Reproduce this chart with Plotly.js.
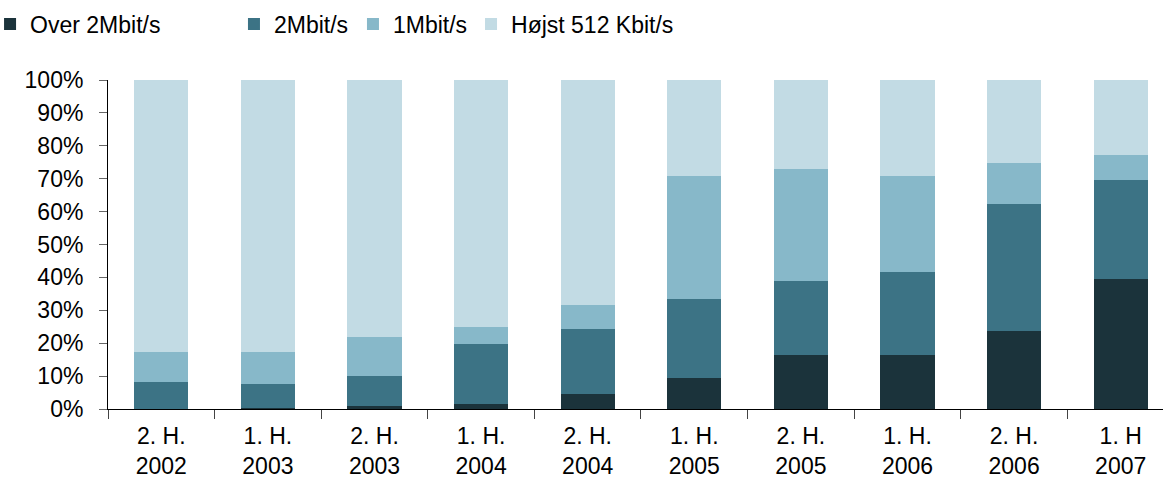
<!DOCTYPE html>
<html>
<head>
<meta charset="utf-8">
<script src="https://cdn.plot.ly/plotly-3.0.1.min.js"></script>
<style>
html, body { margin: 0; padding: 0; background: #fff; }
#chart { width: 1163px; height: 486px; }
</style>
</head>
<body>
<div id="chart"></div>
<script>
const categories = ["2. H.<br>2002", "1. H.<br>2003", "2. H.<br>2003", "1. H.<br>2004", "2. H.<br>2004",
                    "1. H.<br>2005", "2. H.<br>2005", "1. H.<br>2006", "2. H.<br>2006", "1. H<br>2007"];
const seriesNames = ["Over 2Mbit/s", "2Mbit/s", "1Mbit/s", "Højst 512 Kbit/s"];
const over2 = [0, 0.3, 0.9, 1.5, 4.6, 9.4, 16.4, 16.4, 23.7, 39.5];
const mbit2 = [8.2, 7.3, 9.1, 18.3, 19.7, 24.1, 22.5, 25.3, 38.7, 30.2];
const mbit1 = [9.1, 9.7, 11.9, 5.1, 7.3, 37.4, 34.1, 29.2, 12.4, 7.6];
const kbit512 = [82.7, 82.7, 78.1, 75.1, 68.4, 29.1, 27.0, 29.1, 25.2, 22.7];
const yTicks = [0, 10, 20, 30, 40, 50, 60, 70, 80, 90, 100];

const colors = ["#1b333b", "#3c7385", "#87b8c9", "#c2dbe4"];
const values = [over2, mbit2, mbit1, kbit512];
const legendIds = ["legend", "legend2", "legend3", "legend4"];
const legendX = [-0.1118, 0.1194, 0.2322, 0.3441];

const traces = values.map((v, i) => ({
  type: "bar",
  name: seriesNames[i],
  x: categories,
  y: v,
  marker: { color: colors[i], line: { width: 0 } },
  legend: legendIds[i],
  hoverinfo: "skip"
}));

const font = { family: "Liberation Sans, Arial, sans-serif", size: 23, color: "#000" };

const layout = {
  width: 1163,
  height: 486,
  barmode: "stack",
  bargap: 0.493,
  paper_bgcolor: "#fff",
  plot_bgcolor: "#fff",
  font: font,
  margin: { l: 108, r: 0, t: 80, b: 77, autoexpand: false },
  xaxis: {
    type: "category",
    range: [-0.5, 9.397],
    showline: true,
    linecolor: "#000",
    linewidth: 1,
    ticks: "outside",
    tickson: "boundaries",
    ticklen: 9,
    tickcolor: "#444",
    tickwidth: 1,
    showgrid: false,
    zeroline: false,
    tickfont: font,
    ticklabelstandoff: 6
  },
  yaxis: {
    range: [0, 100],
    tickvals: yTicks,
    ticktext: yTicks.map(t => t + "%"),
    showline: true,
    linecolor: "#000",
    linewidth: 1,
    ticks: "outside",
    ticklen: 8,
    tickcolor: "#666",
    tickwidth: 1,
    showgrid: false,
    zeroline: false,
    tickfont: font,
    ticklabelstandoff: 11
  },
  showlegend: true
};

legendIds.forEach((id, i) => {
  layout[id] = {
    orientation: "h",
    x: legendX[i],
    xref: "paper",
    xanchor: "left",
    y: 1 - 24 / 486,
    yref: "container",
    yanchor: "middle",
    font: font,
    bgcolor: "rgba(0,0,0,0)",
    borderwidth: 0,
    itemclick: false,
    itemdoubleclick: false
  };
});

Plotly.newPlot("chart", traces, layout, { staticPlot: true, displayModeBar: false });
</script>
</body>
</html>
